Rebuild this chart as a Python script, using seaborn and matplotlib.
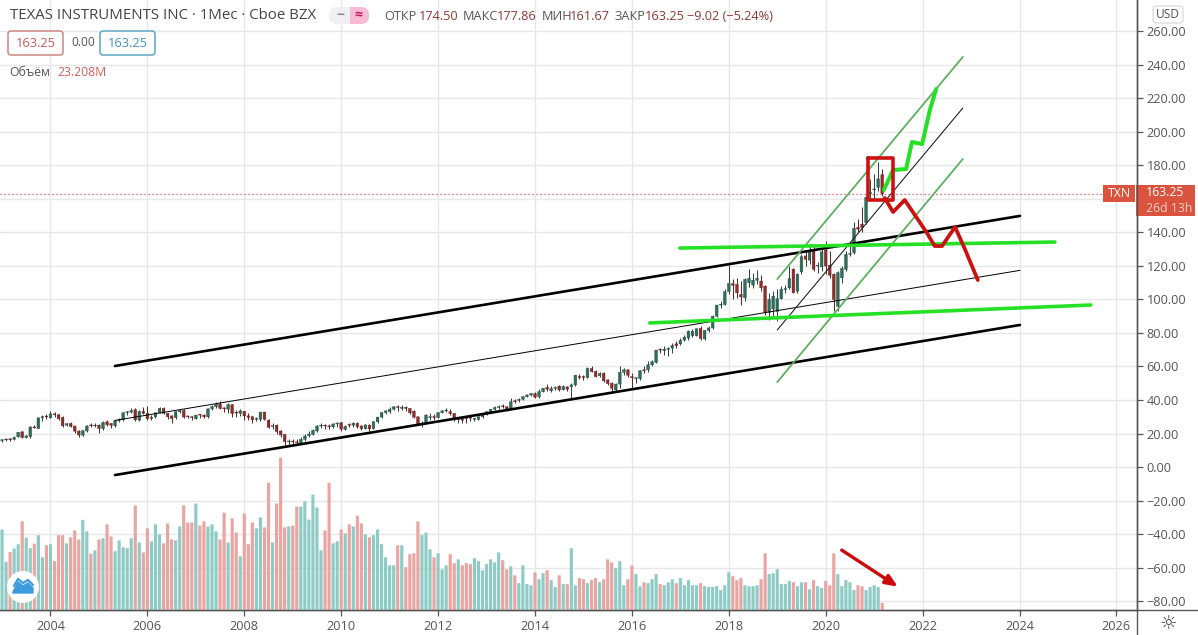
import numpy as np
import pandas as pd
import seaborn as sns
import matplotlib
matplotlib.use("Agg")
import matplotlib.pyplot as plt
from matplotlib.patches import FancyBboxPatch, Circle, Rectangle

# ---------- data ----------
first_year = 2003
opens = [
 15.8,16.2,16.3,16.6,18.0,21.0,17.6,18.2,23.5,23.0,29.6,30.2,
 29.3,31.6,31.2,29.6,25.0,26.0,24.5,21.5,19.0,21.5,24.8,24.5,
 25.0,23.0,27.0,26.0,24.6,27.8,28.2,32.5,32.8,34.2,28.0,33.1,
 32.0,29.0,30.0,32.4,35.0,32.0,30.5,29.5,33.0,33.8,30.0,30.0,
 28.8,31.0,31.0,30.0,34.8,36.0,37.6,35.0,34.5,37.2,32.5,32.0,
 33.3,30.5,30.0,28.5,28.5,32.8,28.0,24.2,25.0,21.5,19.5,15.2,
 15.2,15.0,14.0,16.5,18.8,19.5,21.5,24.5,24.8,24.5,24.0,25.7,
 26.5,22.5,25.0,25.0,26.0,24.5,22.9,25.0,23.0,27.0,29.8,32.5,
 33.0,34.5,36.0,35.0,35.7,35.0,33.3,30.0,25.5,26.2,29.5,30.0,
 29.5,32.5,33.5,33.0,32.0,28.5,28.0,29.0,29.5,29.0,28.5,30.0,
 31.5,33.0,34.5,35.5,36.0,36.0,35.0,39.0,39.8,40.5,42.0,43.0,
 43.8,42.0,45.0,47.5,45.5,47.0,48.3,48.0,46.5,48.0,49.0,54.0,
 53.5,53.5,58.8,57.0,54.5,56.0,52.0,50.0,46.0,49.5,56.5,58.0,
 54.0,53.0,52.8,57.5,58.0,61.0,62.5,69.8,69.5,70.3,71.0,72.5,
 73.5,75.8,77.0,81.0,78.5,82.8,76.5,81.5,83.0,90.0,96.7,97.0,
 104.7,109.5,109.0,103.0,101.0,112.6,108.6,111.5,111.0,108.0,92.3,102.0,
 93.0,100.5,106.0,107.0,118.0,105.0,116.5,126.0,123.5,129.5,120.0,119.5,
 129.5,120.5,115.0,96.0,113.0,118.0,127.0,128.0,142.0,143.0,146.0,163.0,
 165.5,167.0,174.5]
highs = [
 16.8,17.2,17.5,18.6,21.0,21.5,19.0,24.5,25.0,30.0,31.0,31.5,
 33.5,32.8,31.8,30.2,26.5,27.0,24.5,22.2,22.0,25.0,26.0,26.0,
 25.5,27.5,28.0,26.5,28.0,29.0,33.0,33.5,35.0,35.2,34.0,36.0,
 36.5,31.0,32.5,36.0,36.0,32.5,31.0,33.5,34.5,34.5,30.5,30.5,
 31.0,31.5,31.5,35.0,37.0,39.0,39.5,36.0,38.0,37.5,34.0,34.5,
 33.5,32.0,30.5,30.0,33.0,33.0,28.5,26.0,25.5,22.0,20.0,17.0,
 17.0,16.5,18.0,20.0,21.5,22.5,25.0,26.0,25.5,25.5,26.0,27.0,
 27.0,25.0,26.0,27.0,27.0,24.8,25.5,25.5,27.5,30.0,33.0,34.0,
 36.0,36.5,37.0,37.0,36.5,35.5,34.0,30.0,27.5,31.5,32.0,31.5,
 33.0,34.0,35.0,34.5,32.5,29.5,30.0,30.0,31.0,29.5,30.5,31.7,
 33.5,34.5,36.5,37.0,37.5,36.5,41.0,40.5,41.0,42.5,43.5,44.0,
 44.5,46.5,47.0,49.5,48.5,48.5,49.0,49.0,48.5,50.0,55.0,55.5,
 55.0,59.5,60.0,58.0,56.5,56.5,52.5,50.5,50.0,60.0,59.0,58.5,
 56.0,54.0,58.0,60.0,63.0,64.0,70.0,71.0,72.0,71.5,74.0,75.0,
 77.0,79.0,82.0,82.5,83.0,84.0,82.0,84.0,91.0,97.0,99.0,106.0,
 120.5,112.0,113.0,111.0,113.0,118.0,116.0,117.5,114.5,108.5,104.0,105.0,
 106.0,108.0,108.5,120.0,119.0,116.0,127.0,129.0,133.0,132.0,122.5,130.0,
 135.0,129.0,116.0,117.0,120.0,129.0,133.0,146.0,148.0,155.0,162.0,172.0,
 175.0,182.0,177.86]
lows = [
 15.0,15.4,15.8,16.2,17.8,17.2,17.2,17.5,23.0,23.0,27.5,28.5,
 29.0,30.0,28.0,24.0,24.5,24.0,20.5,18.0,18.5,21.0,24.0,23.8,
 20.5,22.0,24.5,23.5,24.0,27.0,27.5,31.0,32.5,27.5,27.5,31.5,
 28.0,28.0,29.0,32.0,31.5,28.5,26.0,28.5,32.0,29.5,29.0,28.0,
 28.5,29.0,29.5,29.5,34.0,35.0,34.5,33.0,32.5,30.0,30.0,30.5,
 28.0,28.0,26.5,27.5,27.5,28.0,23.0,22.5,20.0,18.0,13.0,13.0,
 13.5,13.0,13.5,15.5,18.0,19.0,21.0,23.5,22.5,22.5,23.0,24.0,
 21.5,22.0,24.0,24.0,23.5,22.0,22.5,21.5,22.5,26.5,29.5,31.5,
 32.0,34.0,33.5,34.0,33.5,31.5,29.0,25.0,24.0,26.0,28.0,28.0,
 29.0,32.0,33.0,31.0,27.5,26.5,26.0,26.0,27.5,27.5,28.0,29.5,
 31.0,32.5,34.0,34.5,35.5,33.5,34.8,38.0,39.0,40.0,41.5,42.5,
 41.0,41.0,44.5,45.5,45.0,46.0,45.5,46.0,45.5,41.0,48.5,52.5,
 52.0,53.0,56.5,53.5,54.0,51.0,49.0,45.5,45.0,47.0,55.0,54.0,
 47.0,50.0,52.0,56.0,57.0,60.0,62.0,68.0,67.0,66.0,68.0,71.0,
 73.0,75.5,76.0,77.5,78.0,76.0,76.0,80.5,82.5,89.5,95.0,96.5,
 103.0,100.0,101.0,97.0,99.0,107.5,107.0,109.0,105.0,91.0,88.0,90.0,
 87.0,100.0,104.0,106.5,104.0,104.0,115.0,120.0,121.0,117.0,116.0,117.0,
 115.0,113.0,93.0,93.0,110.0,117.0,126.0,127.0,140.0,140.0,145.0,160.0,
 160.0,165.0,161.67]
closes = [
 16.2,16.3,16.6,17.6,20.7,17.7,18.6,23.9,23.4,29.3,29.5,29.9,
 31.7,31.2,28.8,24.6,25.9,24.2,21.4,19.1,21.7,24.5,24.6,25.0,
 23.0,26.6,25.3,24.9,27.8,28.2,32.4,32.6,33.6,28.2,33.1,32.1,
 28.9,29.6,32.4,35.0,32.1,30.0,28.9,33.0,33.7,29.8,30.0,29.5,
 31.0,31.0,30.0,34.7,36.0,37.5,35.0,34.8,37.2,32.0,32.2,33.5,
 30.5,29.7,28.2,29.0,32.8,28.5,23.7,24.2,21.2,19.1,15.2,15.0,
 15.0,14.5,16.5,18.5,19.7,21.8,24.5,24.5,24.5,24.0,25.7,26.2,
 22.6,24.2,24.9,26.2,24.2,23.0,25.1,22.8,27.0,29.8,32.5,33.5,
 34.5,36.0,35.5,35.7,35.0,32.4,29.7,25.8,26.0,31.0,30.0,29.6,
 32.5,33.5,33.8,32.0,28.5,28.4,29.5,29.6,29.2,28.5,30.0,31.4,
 33.0,34.5,35.5,36.0,36.3,34.4,39.0,39.5,40.3,42.0,43.0,43.9,
 41.7,45.0,47.0,46.5,46.8,47.0,46.0,46.2,47.8,49.0,54.8,53.5,
 53.6,58.8,57.0,54.0,55.8,51.5,49.8,47.0,49.5,56.5,58.0,54.8,
 53.3,52.8,57.5,58.0,61.0,62.8,69.8,69.9,70.3,70.5,72.5,73.5,
 75.5,77.5,81.0,78.5,82.5,76.8,81.6,83.0,90.0,96.7,97.0,104.7,
 109.6,108.5,104.0,101.5,112.0,110.0,111.5,112.6,107.0,92.3,100.0,94.3,
 100.5,106.0,106.5,112.5,104.0,115.0,125.5,124.0,129.0,118.0,120.0,128.5,
 120.0,114.5,100.0,116.0,118.6,127.0,127.5,142.5,143.0,145.0,161.0,164.0,
 166.0,172.0,163.25]
volumes = [
 267,160,192,204,218,294,240,205,220,248,175,215,
 218,162,248,248,221,241,264,234,299,261,187,198,
 234,238,284,244,195,231,208,205,238,347,224,191,
 271,228,284,251,221,287,234,231,277,347,290,290,
 353,280,294,277,284,261,234,323,224,304,257,178,
 320,218,290,271,307,274,422,224,353,505,274,277,
 280,343,343,360,300,383,340,198,264,422,221,228,
 267,254,284,277,313,287,251,241,248,267,218,175,
 148,148,215,215,142,185,188,294,248,257,201,175,
 188,135,148,185,155,168,148,155,152,172,162,132,
 152,168,158,191,165,135,145,115,89,148,86,82,
 125,102,122,132,99,76,115,86,86,205,82,106,
 102,89,99,106,92,102,168,158,139,162,82,102,
 148,119,79,92,89,102,119,86,82,92,102,89,
 106,82,99,82,82,89,79,76,76,79,66,82,
 125,112,99,106,82,79,79,82,102,188,119,122,
 135,86,86,96,92,79,92,92,69,99,79,73,
 96,82,188,119,79,99,92,66,82,79,66,76,
 82,76,23.2]
# direction of each month, one string per year (u = up, d = down)
dirs_by_year = [
 "uudu uduu duud", "uddd uddd uudu", "dudd uuuu udud", "duuu dddu uddd", "uddu uudd uddu",
 "dddu uddu dddu", "dduu uuuu dduu", "dudu ddud uuuu", "uudu dddd uuud", "uuud dudd duuu",
 "uuuu ddud uuuu", "duud uudu duud", "dudd uddd uuud", "duud uuud uuud", "uuuu uduu uuuu",
 "uddd uuuu dduu", "uuuu duud uduu", "dddu uuuu dduu", "uud"]
directions = "".join(dirs_by_year).replace(" ", "")

years = [first_year + i / 12 for i in range(len(closes))]
df = pd.DataFrame({"year": years, "open": opens, "high": highs, "low": lows, "close": closes,
                   "volume": volumes, "dir": list(directions)})

axis_years = list(range(2004, 2028, 2))
price_ticks = list(range(-80, 280, 20))

channel_x = [2005.33, 2024.01]
channel_upper = [60.3, 149.9]
channel_mid = [27.8, 117.4]
channel_lower = [-4.8, 84.8]
fast_x = [2019.0, 2022.83]
fast_upper = [112.2, 244.8]
fast_mid = [81.8, 214.3]
fast_lower = [50.7, 183.9]
level1_x = [2016.99, 2024.73]
level1_y = [130.7, 134.3]
level2_x = [2016.37, 2025.47]
level2_y = [86.0, 96.7]
bull_x = [2021.20, 2021.39, 2021.66, 2021.78, 2021.99, 2022.15, 2022.28]
bull_y = [165.4, 177.3, 177.9, 194.0, 192.8, 213.1, 225.7]
bear_x = [2021.22, 2021.39, 2021.63, 2021.80, 2022.09, 2022.25, 2022.40, 2022.67, 2022.88, 2023.14]
bear_y = [160.6, 152.2, 159.4, 152.2, 139.7, 131.9, 131.9, 143.3, 129.6, 111.6]
box_x = [2020.87, 2021.39, 2021.39, 2020.87, 2020.87]
box_y = [184.5, 184.5, 159.4, 159.4, 184.5]
arrow_from = (2020.33, -49.6)
arrow_to = (2021.49, -71.5)
last_price = 163.25

# ---------- style ----------
W, H = 1198, 635
sns.set_theme(style="white")
plt.rcParams["font.family"] = ["Open Sans", "DejaVu Sans"]
TXT = "#555555"
GRID = "#e6e7ea"
UP_BODY, DN_BODY = "#2f6f5b", "#8e2f2b"
UP_VOL, DN_VOL = "#8fcbc5", "#e8a5a2"

fig = plt.figure(figsize=(W / 100, H / 100), dpi=100, facecolor="white")
ax = fig.add_axes([0, 1 - 610 / H, 1137 / W, 610 / H])
ax.set_xlim(2002.958, 2026.425)
ax.set_ylim(-85.37, 278.8)
ax.set_facecolor("white")
ax.set_axisbelow(True)
ax.grid(True, color=GRID, lw=1.0)

# candles
is_up = df["dir"] == "u"
for mask, col, edge in ((is_up, UP_BODY, "#24423a"), (~is_up, DN_BODY, "#5e1f1c")):
    s = df[mask]
    ax.vlines(s["year"], s["low"], s["high"], color=edge, lw=0.7, zorder=3)
    lo = s[["open", "close"]].min(axis=1)
    hi = s[["open", "close"]].max(axis=1)
    bodies = ax.bar(s["year"], np.maximum(hi - lo, 0.5), bottom=lo, width=0.056, color=col,
                    edgecolor=edge, lw=0.3, zorder=4)
    for b in bodies:
        b.set_snap(False)

ax.axhline(last_price, color="#c8504a", lw=0.9, ls=(0, (1, 2.2)), zorder=2)


def draw(xs, ys, color, lw, z=6):
    sns.lineplot(x=xs, y=ys, sort=False, estimator=None, color=color, lw=lw, ax=ax, zorder=z,
                 legend=False, solid_capstyle="round", solid_joinstyle="round")


draw(channel_x, channel_upper, "black", 1.9)
draw(channel_x, channel_mid, "black", 0.7)
draw(channel_x, channel_lower, "black", 1.9)
draw(fast_x, fast_upper, "#5fae5f", 1.3)
draw(fast_x, fast_mid, "#222222", 0.8)
draw(fast_x, fast_lower, "#5fae5f", 1.3)
draw(level1_x, level1_y, "#25e025", 2.6, 7)
draw(level2_x, level2_y, "#25e025", 2.6, 7)
draw(bull_x, bull_y, "#25e025", 2.9, 8)
draw(bear_x, bear_y, "#cc1111", 2.7, 8)
draw(box_x, box_y, "#cc1111", 2.6, 8)
ax.annotate("", xy=arrow_to, xytext=arrow_from, zorder=9,
            arrowprops=dict(arrowstyle="-|>,head_length=0.6,head_width=0.25", color="#cc0a0a", lw=2.4,
                            shrinkA=0, shrinkB=0))

ax.set_xticks(axis_years)
ax.set_xticklabels([str(y) for y in axis_years])
ax.set_xlabel("")
ax.set_ylabel("")

# volume pane
vol = ax.twinx()
vol.set_zorder(ax.get_zorder() + 1)
vol.patch.set_visible(False)
sns.barplot(data=df, x="year", y="volume", hue="dir", native_scale=True, dodge=False,
            palette={"u": UP_VOL, "d": DN_VOL}, hue_order=["u", "d"], width=0.78, legend=False,
            saturation=1, ax=vol, errorbar=None)
for bar in vol.patches:
    bar.set_snap(False)
    bar.set_linewidth(0)
vol.set_xlim(2002.958, 2026.425)
vol.set_ylim(0, 2023)
vol.set_xlabel("")
vol.set_ylabel("")
vol.set_yticks([])
vol.tick_params(left=False, right=False, bottom=False, labelbottom=False)
for s in vol.spines.values():
    s.set_visible(False)

# axes furniture (after twinx, which moves the price ticks to the left)
ax.set_yticks(price_ticks)
ax.set_yticklabels([f"{t:.2f}".replace("-", "−") for t in price_ticks])
ax.yaxis.tick_right()
ax.xaxis.tick_bottom()
ax.tick_params(axis="both", length=4, width=0.9, color="#555555", labelcolor=TXT, labelsize=9.2,
               bottom=True, right=True, left=False, pad=3)
for side in ("top", "left"):
    ax.spines[side].set_visible(False)
for side in ("right", "bottom"):
    ax.spines[side].set_color("#555555")
    ax.spines[side].set_linewidth(1.0)
    ax.spines[side].set_visible(True)

# pixel overlay for the header, price flags and logo
ui = fig.add_axes([0, 0, 1, 1], zorder=10)
ui.set_xlim(0, W)
ui.set_ylim(H, 0)
ui.axis("off")
ui.patch.set_visible(False)


def label(x, y, s, color=TXT, size=9.2, **kw):
    kw.setdefault("va", "center")
    kw.setdefault("ha", "left")
    ui.text(x, y, s, color=color, fontsize=size, **kw)


def box(x0, y0, x1, y1, fc, ec, r=3, lw=1.0):
    ui.add_patch(FancyBboxPatch((x0 + r, y0 + r), x1 - x0 - 2 * r, y1 - y0 - 2 * r,
                                boxstyle=f"round,pad={r},rounding_size={r}", fc=fc, ec=ec, lw=lw))


DARK_RED = "#8c3a36"
ui.plot([0, W], [610, 610], color="#555555", lw=1.0)
ui.plot([1137, 1137], [0, H], color="#555555", lw=1.0)
label(9.5, 15.5, "TEXAS INSTRUMENTS INC · 1Мес · Cboe BZX", "#444444", 10.8)
box(329, 7, 369, 24, "#f0f0f2", "none", r=8, lw=0)
box(350, 7, 369, 24, "#f7bcd3", "none", r=8, lw=0)
ui.add_patch(Rectangle((350, 7), 8, 17, fc="#f7bcd3", ec="none"))
label(340, 15, "−", "#888888", 10, ha="center", fontweight="bold")
label(358, 15, "≈", "#c2185b", 10, ha="center", fontweight="bold")
for x, s, c in ((384, "ОТКР", TXT), (419, "174.50", DARK_RED), (463, "МАКС", TXT), (497, "177.86", DARK_RED),
                (542, "МИН", TXT), (570, "161.67", DARK_RED), (615, "ЗАКР", TXT), (645, "163.25", DARK_RED),
                (687, "−9.02 (−5.24%)", DARK_RED)):
    label(x, 16, s, c, 9.2)
box(8, 31, 63, 55, "white", "#c97a76")
label(35.5, 43.5, "163.25", "#c45a55", 9.2, ha="center")
label(71, 43, "0.00", TXT, 8.6)
box(100, 31, 155, 55, "white", "#4f9dbd")
label(127.5, 43.5, "163.25", "#3f93b8", 9.2, ha="center")
label(9, 72, "Объём", TXT, 8.8)
label(57, 72, "23.208M", "#d0605a", 8.8)

box(1153, 6, 1183, 23, "white", "#dddddd", r=3)
label(1168, 14.5, "USD", TXT, 8.6, ha="center")
ui.add_patch(Rectangle((1103, 185), 32, 17, fc="#d9533f", ec="none"))
label(1119, 193.5, "TXN", "white", 8.8, ha="center")
ui.add_patch(Rectangle((1136, 185), 59, 31, fc="#d9533f", ec="none"))
label(1146, 192.5, "163.25", "white", 8.8)
label(1146, 208, "26d 13h", "#f7cfc8", 8.8)

ui.add_patch(Circle((23, 587), 16, fc="white", ec="none"))
ui.fill([13, 18, 23, 28, 33, 33, 13], [592, 582, 586, 583, 588, 593, 593], color="#3d9be0")
ui.plot([14, 18, 23, 28, 33], [586, 579, 583, 580, 585], color="#3d9be0", lw=1.6)
label(1168.5, 623, "☼", "#444444", 14, ha="center", family="DejaVu Sans")
ui.set_xlim(0, W)
ui.set_ylim(H, 0)

fig.savefig("out.png", dpi=100)
